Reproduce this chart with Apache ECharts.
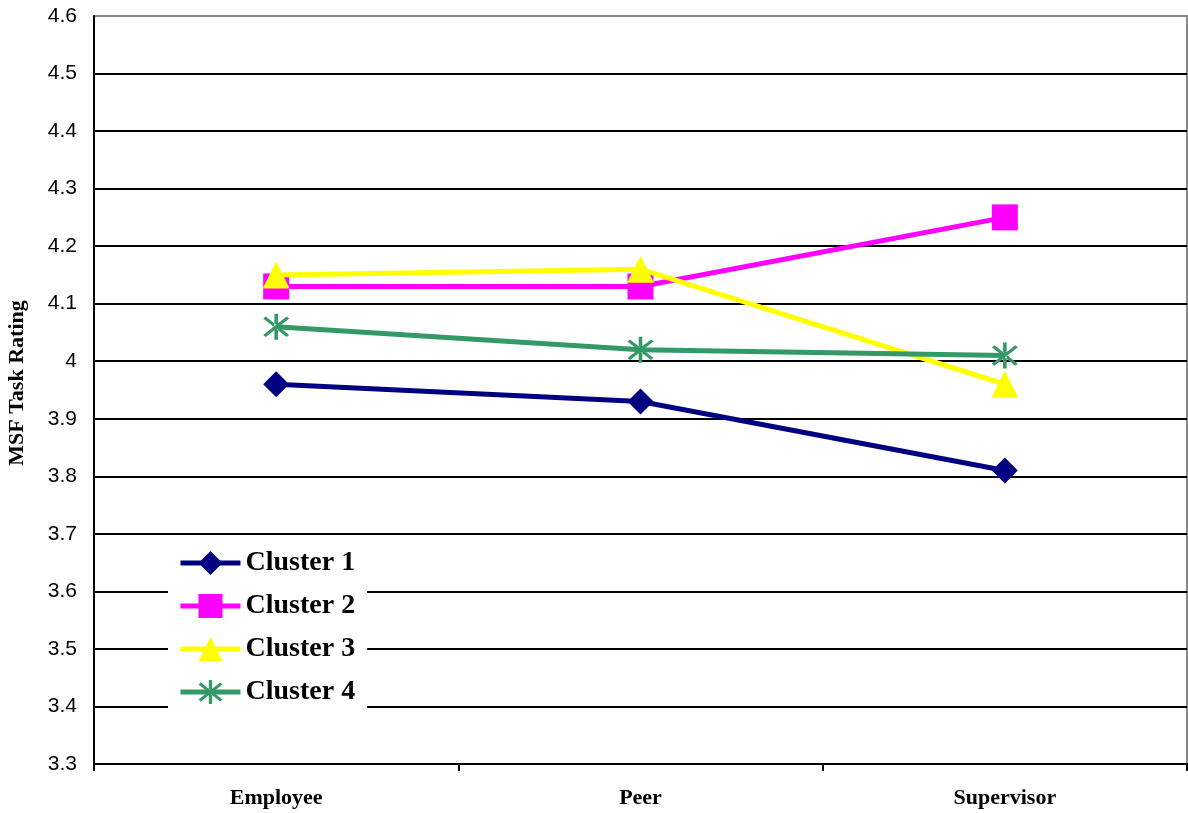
<!DOCTYPE html>
<html>
<head>
<meta charset="utf-8">
<script src="https://cdn.jsdelivr.net/npm/echarts@6/dist/echarts.min.js"></script>
<style>
  html, body { margin: 0; padding: 0; background: #fff; }
  #chart { width: 1188px; height: 813px; }
</style>
</head>
<body>
<div id="chart"></div>
<script>
// Rater groups along the x axis
const categories = ['Employee', 'Peer', 'Supervisor'];

// Mean MSF task rating per cluster
const cluster1 = [3.96, 3.93, 3.81];
const cluster2 = [4.13, 4.13, 4.25];
const cluster3 = [4.15, 4.16, 3.96];
const cluster4 = [4.06, 4.02, 4.01];

const seriesNames = ['Cluster 1', 'Cluster 2', 'Cluster 3', 'Cluster 4'];

// Y axis range
const yMin = 3.3;
const yMax = 4.6;
const yStep = 0.1;

// Asterisk marker: one vertical stroke and two diagonals
const asterisk = 'path://M-1.3,-12 L1.3,-12 L1.3,12 L-1.3,12 Z ' +
  'M7.57,9.41 L9.41,7.57 L-7.57,-9.41 L-9.41,-7.57 Z ' +
  'M-7.57,9.41 L-9.41,7.57 L7.57,-9.41 L9.41,-7.57 Z';

const styles = [
  { color: '#000080', symbol: 'diamond', size: 26 },
  { color: '#FF00FF', symbol: 'rect', size: 26 },
  { color: '#FFFF00', symbol: 'triangle', size: 27 },
  { color: '#339966', symbol: asterisk, size: 26 }
];
const values = [cluster1, cluster2, cluster3, cluster4];

const serif = '"Liberation Serif", "Times New Roman", serif';

const chart = echarts.init(document.getElementById('chart'), null, { renderer: 'canvas' });

chart.setOption({
  animation: false,
  backgroundColor: '#ffffff',
  grid: {
    left: 94, right: 1, top: 16, bottom: 49,
    containLabel: false,
    outerBoundsMode: 'none',
    show: true, borderColor: '#888888', borderWidth: 2, backgroundColor: '#ffffff'
  },
  legend: {
    left: 168, top: 543,
    orient: 'vertical',
    backgroundColor: '#ffffff',
    padding: [6, 12, 6, 10],
    itemWidth: 60, itemHeight: 30, itemGap: 15,
    data: seriesNames,
    lineStyle: { width: 5 },
    textStyle: {
      fontFamily: serif, fontWeight: 'bold', fontSize: 28, color: '#000'
    }
  },
  xAxis: {
    type: 'category',
    data: categories,
    boundaryGap: true,
    axisLine: { lineStyle: { color: '#000', width: 2 } },
    axisTick: { show: true, length: 7, lineStyle: { color: '#000', width: 2 } },
    axisLabel: {
      margin: 23,
      fontFamily: serif, fontWeight: 'bold', fontSize: 22, color: '#000'
    },
    splitLine: { show: false }
  },
  yAxis: {
    type: 'value',
    min: yMin, max: yMax, interval: yStep,
    name: 'MSF Task Rating',
    nameLocation: 'middle',
    nameGap: 66,
    nameRotate: 90,
    nameTextStyle: {
      fontFamily: serif, fontWeight: 'bold', fontSize: 22, color: '#000',
      padding: [0, 0, 0, 14]
    },
    axisLine: { show: true, lineStyle: { color: '#000', width: 2 } },
    axisTick: { show: false },
    axisLabel: {
      margin: 17,
      fontFamily: '"Liberation Sans", Arial, sans-serif',
      fontSize: 21, color: '#000',
      formatter: v => String(Math.round(v * 10) / 10)
    },
    splitLine: {
      show: true, showMinLine: false, showMaxLine: false,
      lineStyle: { color: '#000', width: 2 }
    }
  },
  series: values.map((data, i) => ({
    name: seriesNames[i],
    type: 'line',
    data: data,
    symbol: styles[i].symbol,
    symbolSize: styles[i].size,
    showAllSymbol: true,
    lineStyle: { color: styles[i].color, width: 5 },
    itemStyle: { color: styles[i].color, borderWidth: 0 },
    emphasis: { disabled: true },
    z: 2 + i
  }))
});
</script>
</body>
</html>
